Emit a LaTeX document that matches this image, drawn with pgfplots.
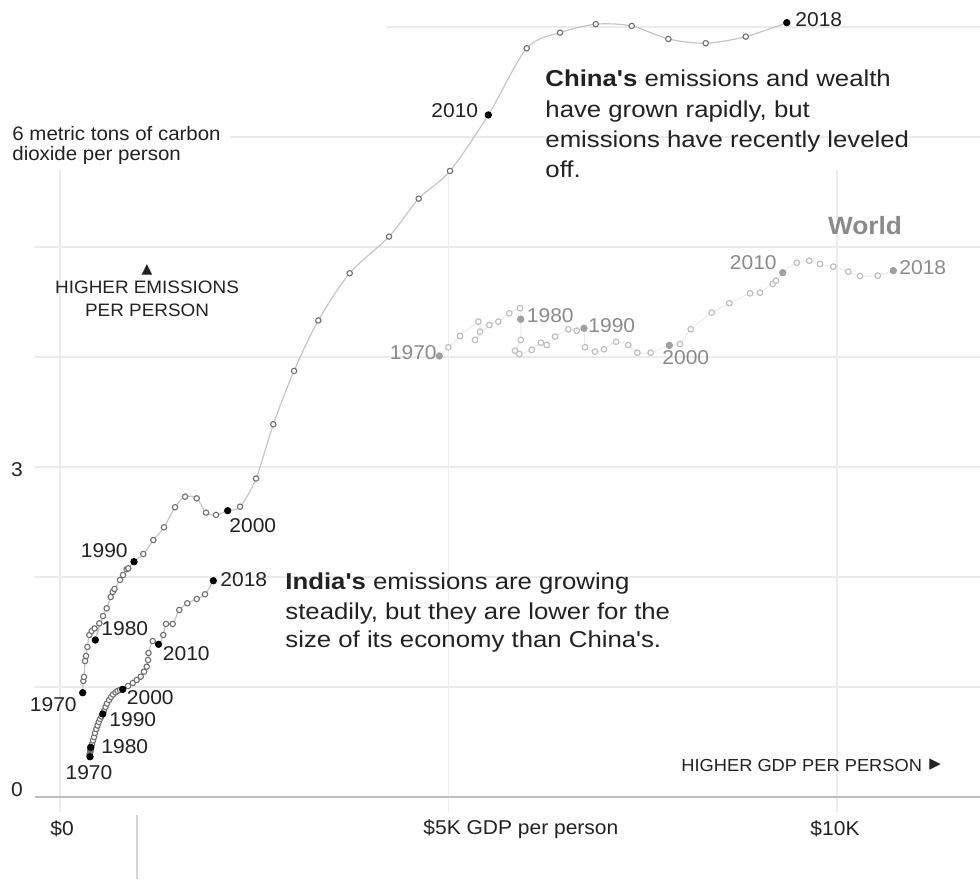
\documentclass[border=0pt]{standalone}
\usepackage{pgfplots}
\pgfplotsset{compat=1.18}
\usepackage{pgfplotstable}
\usepackage{fontspec}
\setmainfont{Liberation Sans}[FakeStretch=1.05]
\newfontfamily\annfont{Liberation Sans}[FakeStretch=1.12]
\newfontfamily\symfont{DejaVu Sans}
\definecolor{gridc}{HTML}{EBEBEB}
\definecolor{axisc}{HTML}{BDBDBD}
\definecolor{cline}{HTML}{C4C4C4}
\definecolor{cmark}{HTML}{6E6E6E}
\definecolor{wline}{HTML}{EDEDED}
\definecolor{wmark}{HTML}{BEBEBE}
\definecolor{wdec}{HTML}{A0A0A0}
\definecolor{wtext}{HTML}{8A8A8A}
\definecolor{txt}{HTML}{222222}
\tikzset{
  yl/.style={font=\fontsize{10}{12}\selectfont, text=txt, inner sep=0pt},
  wl/.style={font=\fontsize{10}{12}\selectfont, text=wtext, inner sep=0pt},
  ann/.style={font=\annfont\fontsize{11.5}{15}\selectfont, text=txt, inner sep=0pt, anchor=base west},
}

\pgfplotstableread{
year x y
1970 0.292 0.948
1971 0.300 1.055
1972 0.309 1.091
1973 0.322 1.236
1974 0.335 1.282
1975 0.352 1.364
1976 0.377 1.473
1977 0.408 1.509
1978 0.444 1.532
1979 0.506 1.579
1980 0.454 1.427
1981 0.553 1.645
1982 0.601 1.715
1983 0.652 1.818
1984 0.678 1.864
1985 0.701 1.891
1986 0.772 1.973
1987 0.811 2.018
1988 0.858 2.070
1989 0.879 2.079
1990 0.952 2.139
1991 1.072 2.209
1992 1.201 2.336
1993 1.338 2.452
1994 1.480 2.634
1995 1.609 2.730
1996 1.759 2.715
1997 1.879 2.585
1998 2.008 2.564
2000 2.158 2.603
2001 2.317 2.639
2002 2.523 2.895
2003 2.745 3.388
2004 3.012 3.873
2005 3.324 4.332
2006 3.728 4.761
2007 4.234 5.094
2008 4.616 5.439
2009 5.019 5.691
2010 5.512 6.200
2011 6.006 6.806
2012 6.435 6.948
2013 6.894 7.025
2014 7.358 7.009
2015 7.829 6.891
2016 8.310 6.852
2017 8.825 6.912
2018 9.353 7.039
}\china

\pgfplotstableread{
year x y
1970 0.292 0.948
1980 0.454 1.427
1990 0.952 2.139
2000 2.158 2.603
2010 5.512 6.200
2018 9.353 7.039
}\chinadec

\pgfplotstableread{
year x y
1970 0.386 0.366
1971 0.380 0.382
1972 0.384 0.391
1973 0.386 0.405
1974 0.390 0.414
1975 0.393 0.423
1976 0.390 0.432
1977 0.396 0.436
1978 0.399 0.445
1979 0.402 0.455
1980 0.395 0.452
1981 0.412 0.482
1982 0.425 0.514
1983 0.438 0.545
1984 0.450 0.582
1985 0.467 0.618
1986 0.483 0.650
1987 0.499 0.682
1988 0.515 0.709
1989 0.532 0.732
1990 0.550 0.755
1991 0.566 0.782
1992 0.586 0.818
1993 0.605 0.850
1994 0.631 0.882
1995 0.656 0.909
1996 0.682 0.932
1997 0.714 0.950
1998 0.740 0.964
1999 0.772 0.973
2000 0.807 0.979
2001 0.875 1.009
2002 0.936 1.036
2003 0.987 1.064
2004 1.039 1.094
2005 1.081 1.139
2006 1.116 1.185
2007 1.133 1.245
2008 1.139 1.309
2009 1.193 1.418
2010 1.268 1.388
2011 1.329 1.473
2012 1.364 1.573
2013 1.450 1.573
2014 1.535 1.700
2015 1.638 1.761
2016 1.759 1.800
2017 1.866 1.843
2018 1.973 1.966
}\india

\pgfplotstableread{
year x y
1970 0.386 0.366
1980 0.395 0.452
1990 0.550 0.755
2000 0.807 0.979
2010 1.268 1.388
2018 1.973 1.966
}\indiadec

\pgfplotstableread{
year x y
1970 4.882 4.009
1971 4.997 4.088
1972 5.148 4.191
1973 5.383 4.321
1974 5.405 4.230
1975 5.341 4.155
1976 5.525 4.291
1977 5.641 4.321
1978 5.782 4.397
1979 5.920 4.443
1980 5.929 4.343
1981 5.929 4.155
1982 5.856 4.057
1983 5.911 4.027
1984 6.071 4.064
1985 6.187 4.130
1986 6.264 4.109
1987 6.371 4.185
1988 6.542 4.252
1989 6.650 4.239
1990 6.744 4.261
1991 6.757 4.088
1992 6.885 4.048
1993 7.001 4.070
1994 7.156 4.139
1995 7.314 4.109
1996 7.430 4.039
1997 7.602 4.039
2000 7.842 4.105
2001 7.979 4.118
2002 8.117 4.252
2003 8.387 4.403
2004 8.614 4.488
2005 8.880 4.579
2006 9.009 4.585
2007 9.172 4.664
2008 9.215 4.694
2010 9.301 4.766
2011 9.481 4.857
2012 9.643 4.875
2013 9.781 4.845
2014 9.952 4.821
2015 10.145 4.775
2016 10.296 4.736
2017 10.524 4.739
2018 10.724 4.785
}\world

\pgfplotstableread{
year x y
1970 4.882 4.009
1980 5.929 4.343
1990 6.744 4.261
2000 7.842 4.105
2010 9.301 4.766
2018 10.724 4.785
}\worlddec

\begin{document}
\begin{tikzpicture}
\path[use as bounding box] (-17.5pt,-41pt) rectangle (472.5pt,398.5pt);
\begin{axis}[
  width=472.5pt, height=398.5pt, scale only axis,
  xmin=-0.322, xmax=11.840, ymin=0, ymax=7.245,
  axis lines=none, clip=false,
]
% grid
\draw[gridc, line width=0.6pt] (axis cs:-0.322,1) -- (axis cs:11.84,1);
\draw[gridc, line width=0.6pt] (axis cs:-0.322,2) -- (axis cs:11.84,2);
\draw[gridc, line width=0.6pt] (axis cs:-0.322,3) -- (axis cs:11.84,3);
\draw[gridc, line width=0.6pt] (axis cs:-0.322,4) -- (axis cs:11.84,4);
\draw[gridc, line width=0.6pt] (axis cs:-0.322,5) -- (axis cs:11.84,5);
\draw[gridc, line width=0.6pt] (axis cs:2.188,6) -- (axis cs:11.84,6);
\draw[gridc, line width=0.6pt] (axis cs:4.208,7) -- (axis cs:11.84,7);
\draw[gridc, line width=0.6pt] (axis cs:0,5.70) -- (axis cs:0,-0.136);
\draw[gridc, line width=0.6pt] (axis cs:5,5.70) -- (axis cs:5,-0.136);
\draw[gridc, line width=0.6pt] (axis cs:10,5.70) -- (axis cs:10,-0.136);
\draw[axisc, line width=0.8pt] (axis cs:-0.322,0) -- (axis cs:11.84,0);
\draw[gridc!80!gray, line width=0.6pt] (axis cs:0.991,-0.164) -- (axis cs:0.991,-0.745);

% World
\addplot[wline, line width=0.6pt, smooth, tension=0.4, mark=*, mark size=1.4pt,
  mark options={draw=wmark, fill=white, line width=0.6pt}] table[x=x,y=y] {\world};
\addplot[only marks, mark=*, mark size=1.6pt, mark options={draw=wdec, fill=wdec}] table[x=x,y=y] {\worlddec};

% India
\addplot[cline, line width=0.6pt, smooth, tension=0.5, mark=*, mark size=1.35pt,
  mark options={draw=cmark, fill=white, line width=0.55pt}] table[x=x,y=y] {\india};
\addplot[only marks, mark=*, mark size=1.6pt, mark options={draw=black, fill=black}] table[x=x,y=y] {\indiadec};

% China
\addplot[cline, line width=0.6pt, smooth, tension=0.5, mark=*, mark size=1.35pt,
  mark options={draw=cmark, fill=white, line width=0.55pt}] table[x=x,y=y] {\china};
\addplot[only marks, mark=*, mark size=1.6pt, mark options={draw=black, fill=black}] table[x=x,y=y] {\chinadec};

% tick labels
\node[yl] at (axis cs:-0.553,0.064) {0};
\node[yl] at (axis cs:-0.553,2.973) {3};
\node[yl] at (axis cs:0.026,-0.291) {\$0};
\node[yl, anchor=west] at (axis cs:4.672,-0.291) {\$5K GDP per person};
\node[yl] at (axis cs:9.974,-0.291) {\$10K};

% axis annotations
\node[yl, anchor=base west, font=\fontsize{9.75}{12}\selectfont] at (axis cs:-0.618,5.968) {6 metric tons of carbon};
\node[yl, anchor=base west, font=\fontsize{9.75}{12}\selectfont] at (axis cs:-0.618,5.782) {dioxide per person};
\node[yl, font=\symfont\fontsize{7}{8}\selectfont] at (axis cs:1.120,4.791) {▲};
\node[yl, anchor=base, font=\fontsize{9}{11}\selectfont] at (axis cs:1.120,4.577) {HIGHER EMISSIONS};
\node[yl, anchor=base, font=\fontsize{9}{11}\selectfont] at (axis cs:1.120,4.368) {PER PERSON};
\node[yl, anchor=base west, font=\fontsize{8.7}{11}\selectfont] at (axis cs:7.992,0.236) {HIGHER GDP PER PERSON};
\node[yl, font=\symfont\fontsize{7.5}{8}\selectfont] at (axis cs:11.261,0.291) {▶};

% China year labels
\node[yl, anchor=east] at (axis cs:0.219,0.836) {1970};
\node[yl, anchor=west] at (axis cs:0.528,1.527) {1980};
\node[yl, anchor=west] at (axis cs:0.264,2.241) {1990};
\node[yl, anchor=west] at (axis cs:2.175,2.470) {2000};
\node[yl, anchor=east] at (axis cs:5.386,6.236) {2010};
\node[yl, anchor=west] at (axis cs:9.459,7.068) {2018};

% India year labels
\node[yl] at (axis cs:0.373,0.218) {1970};
\node[yl, anchor=west] at (axis cs:0.528,0.457) {1980};
\node[yl, anchor=west] at (axis cs:0.631,0.700) {1990};
\node[yl, anchor=west] at (axis cs:0.856,0.900) {2000};
\node[yl, anchor=west] at (axis cs:1.319,1.300) {2010};
\node[yl, anchor=west] at (axis cs:2.059,1.973) {2018};

% World labels
\node[wl, anchor=east] at (axis cs:4.852,4.036) {1970};
\node[wl, anchor=west] at (axis cs:6.004,4.373) {1980};
\node[wl, anchor=west] at (axis cs:6.795,4.282) {1990};
\node[wl, anchor=west] at (axis cs:7.748,3.991) {2000};
\node[wl, anchor=east] at (axis cs:9.228,4.859) {2010};
\node[wl, anchor=west] at (axis cs:10.798,4.809) {2018};
\node[wl, font=\bfseries\fontsize{12.5}{14}\selectfont] at (axis cs:10.360,5.191) {World};

% China annotation
\node[ann] at (axis cs:6.242,6.455) {\textbf{China's} emissions and wealth};
\node[ann] at (axis cs:6.242,6.173) {have grown rapidly, but};
\node[ann] at (axis cs:6.242,5.900) {emissions have recently leveled};
\node[ann] at (axis cs:6.242,5.627) {off.};

% India annotation
\node[ann] at (axis cs:2.896,1.882) {\textbf{India's} emissions are growing};
\node[ann] at (axis cs:2.896,1.618) {steadily, but they are lower for the};
\node[ann] at (axis cs:2.896,1.355) {size of its economy than China's.};
\end{axis}
\end{tikzpicture}
\end{document}
